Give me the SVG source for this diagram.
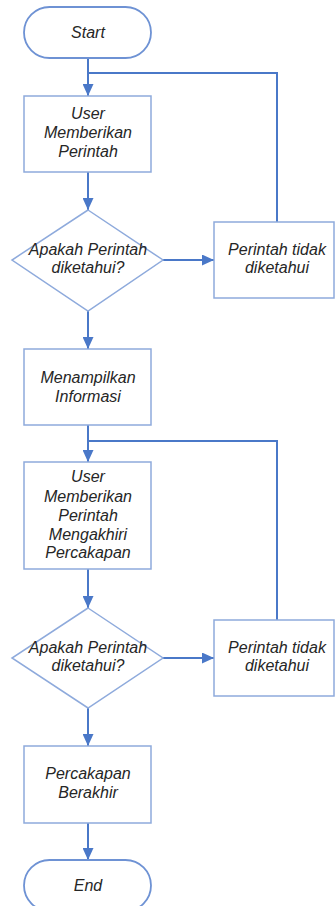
<svg xmlns="http://www.w3.org/2000/svg" width="335" height="906" viewBox="0 0 335 906">
<defs>
<style>
.sh{fill:#ffffff;stroke:#8eaadc;stroke-width:1.5}
.tm{fill:#ffffff;stroke:#6e92d4;stroke-width:1.8}
.t{font-family:"Liberation Sans",Arial,sans-serif;font-size:16px;font-style:italic;fill:#262626;text-anchor:middle}
.c{fill:none;stroke:#4a78c8;stroke-width:2}
</style>
<marker id="ah" markerWidth="12" markerHeight="11" refX="12" refY="5.5" orient="auto" markerUnits="userSpaceOnUse" viewBox="0 0 12 11">
<path d="M0,0 L12,5.5 L0,11 z" fill="#4a78c8"/>
</marker>
</defs>
<rect width="335" height="906" fill="#ffffff"/>
<g id="connectors">
<path class="c" d="M88,58 V96" marker-end="url(#ah)"/>
<path class="c" d="M277,222 V73 H88"/>
<path class="c" d="M88,172 V210" marker-end="url(#ah)"/>
<path class="c" d="M163,260 H214" marker-end="url(#ah)"/>
<path class="c" d="M88,311 V349" marker-end="url(#ah)"/>
<path class="c" d="M88,425 V462" marker-end="url(#ah)"/>
<path class="c" d="M277,620 V441 H88"/>
<path class="c" d="M88,569 V608" marker-end="url(#ah)"/>
<path class="c" d="M163,658 H214" marker-end="url(#ah)"/>
<path class="c" d="M88,708 V746" marker-end="url(#ah)"/>
<path class="c" d="M88,823 V860" marker-end="url(#ah)"/>
</g>
<g id="start">
<rect class="tm" x="24" y="7" width="127" height="51" rx="25.5"/>
<text class="t" x="88" y="38">Start</text>
</g>
<g id="user1">
<rect class="sh" x="24" y="96" width="127" height="76"/>
<text class="t" x="88" y="119">User</text>
<text class="t" x="88" y="138">Memberikan</text>
<text class="t" x="88" y="157">Perintah</text>
</g>
<g id="decision1">
<polygon class="sh" points="88,210 163,260 88,311 12,260"/>
<text class="t" x="88" y="255">Apakah Perintah</text>
<text class="t" x="88" y="273">diketahui?</text>
</g>
<g id="unknown1">
<rect class="sh" x="214" y="222" width="120" height="76"/>
<text class="t" x="277" y="255">Perintah tidak</text>
<text class="t" x="277" y="273">diketahui</text>
</g>
<g id="info">
<rect class="sh" x="24" y="349" width="127" height="76"/>
<text class="t" x="88" y="383">Menampilkan</text>
<text class="t" x="88" y="402">Informasi</text>
</g>
<g id="user2">
<rect class="sh" x="24" y="462" width="127" height="107"/>
<text class="t" x="88" y="482">User</text>
<text class="t" x="88" y="502">Memberikan</text>
<text class="t" x="88" y="521">Perintah</text>
<text class="t" x="88" y="540">Mengakhiri</text>
<text class="t" x="88" y="558">Percakapan</text>
</g>
<g id="decision2">
<polygon class="sh" points="88,608 163,658 88,708 12,658"/>
<text class="t" x="88" y="653">Apakah Perintah</text>
<text class="t" x="88" y="671">diketahui?</text>
</g>
<g id="unknown2">
<rect class="sh" x="214" y="620" width="120" height="76"/>
<text class="t" x="277" y="653">Perintah tidak</text>
<text class="t" x="277" y="671">diketahui</text>
</g>
<g id="ended">
<rect class="sh" x="24" y="746" width="127" height="77"/>
<text class="t" x="88" y="779">Percakapan</text>
<text class="t" x="88" y="798">Berakhir</text>
</g>
<g id="end">
<rect class="tm" x="24" y="860" width="127" height="51" rx="25.5"/>
<text class="t" x="88" y="891">End</text>
</g>
</svg>
